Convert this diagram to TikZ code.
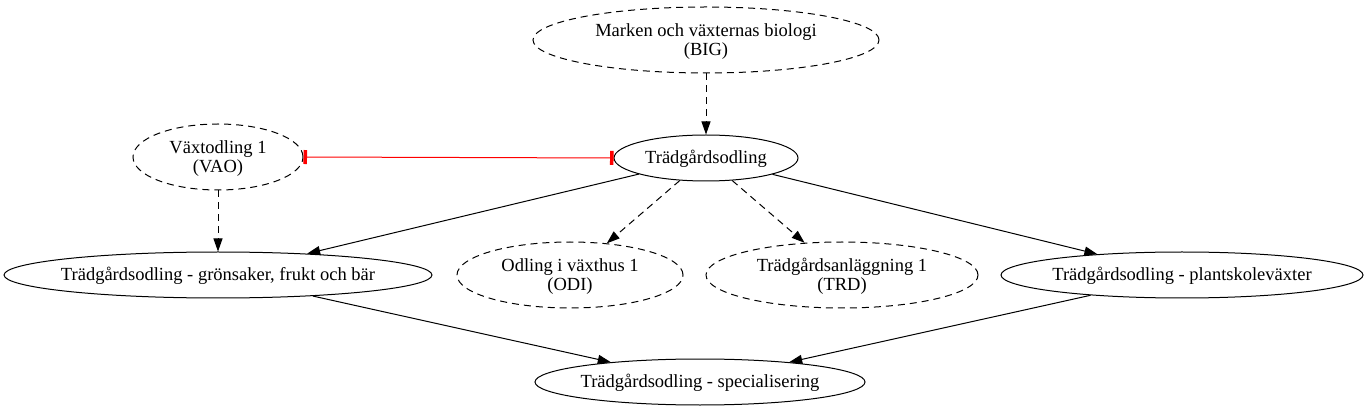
\documentclass[tikz,border=0pt]{standalone}
\usepackage{fontspec}
\setmainfont{Liberation Serif}
\usetikzlibrary{shapes.geometric,arrows.meta}
\newcommand{\lbl}[1]{\raisebox{-2pt}[\height][\depth]{\makebox[0pt][c]{\begin{tabular}{@{}c@{}}#1\end{tabular}}}}
\begin{document}
\begin{tikzpicture}[x=1pt,y=-1pt,
  base/.style={ellipse,draw,line width=1pt,inner sep=0pt,font=\fontsize{18.5pt}{19.5pt}\selectfont},
  dsh/.style={dash pattern=on 7pt off 5pt},
  dnode/.style={base,dsh},
  arr/.style={line width=1pt,-{Triangle[length=13pt,width=9pt]}},
  redtee/.style={line width=1pt,red,{Rectangle[width=14pt,length=3.5pt]}-{Rectangle[width=14pt,length=3.5pt]}}]
\useasboundingbox (0,0) rectangle (1367,411);
\node[dnode,minimum width=346pt,minimum height=66pt] (BIG) at (706,40) {\lbl{Marken och växternas biologi\\(BIG)}};
\node[base,minimum width=184pt,minimum height=46pt] (T) at (706,158) {\lbl{Trädgårdsodling}};
\node[dnode,minimum width=170pt,minimum height=66pt] (VAO) at (218,157) {\lbl{Växtodling 1\\(VAO)}};
\node[base,minimum width=428pt,minimum height=46pt] (GFB) at (218,275) {\lbl{Trädgårdsodling - grönsaker, frukt och bär}};
\node[dnode,minimum width=226pt,minimum height=66pt] (ODI) at (570,275) {\lbl{Odling i växthus 1\\(ODI)}};
\node[dnode,minimum width=272pt,minimum height=66pt] (TRD) at (842,275) {\lbl{Trädgårdsanläggning 1\\(TRD)}};
\node[base,minimum width=362pt,minimum height=46pt] (PV) at (1182,275) {\lbl{Trädgårdsodling - plantskoleväxter}};
\node[base,minimum width=330pt,minimum height=46pt] (SPEC) at (700,382) {\lbl{Trädgårdsodling - specialisering}};
\draw[arr,dsh] (BIG) -- (T);
\draw[redtee] (VAO.east) -- (T.west);
\draw[arr,dsh] (VAO) -- (GFB);
\draw[arr] (T) -- (GFB);
\draw[arr,dsh] (T) -- (ODI);
\draw[arr,dsh] (T) -- (TRD);
\draw[arr] (T) -- (PV);
\draw[arr] (GFB) -- (SPEC);
\draw[arr] (PV) -- (SPEC);
\end{tikzpicture}
\end{document}
